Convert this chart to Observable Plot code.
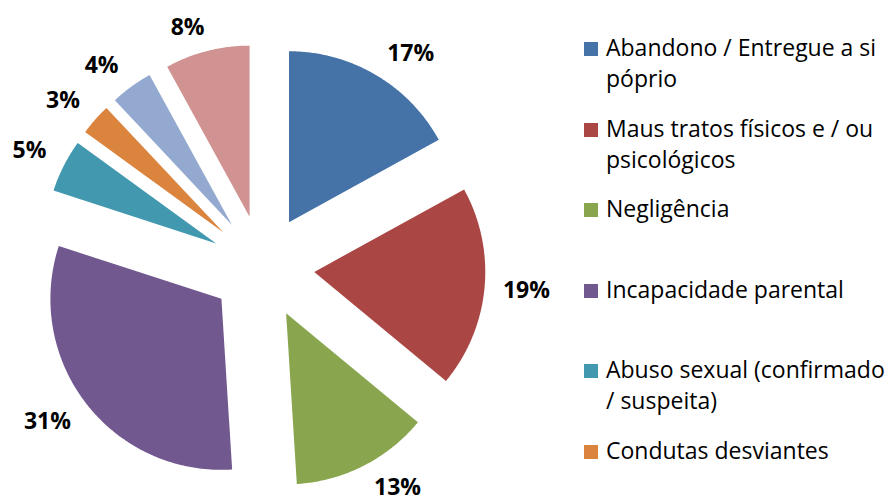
<!DOCTYPE html>
<html>
<head>
<meta charset="utf-8">
<script src="https://cdn.jsdelivr.net/npm/d3@7"></script>
<script src="https://cdn.jsdelivr.net/npm/@observablehq/plot@0.6"></script>
<style>
  html, body { margin: 0; padding: 0; background: #ffffff; }
  #wrap { position: relative; width: 889px; height: 502px; overflow: hidden; font-family: "Open Sans", sans-serif; }
  #chart { position: absolute; left: 0; top: 0; }
  .item { position: absolute; left: 584px; width: 305px; }
  .sw { position: absolute; left: 0; top: 10px; width: 14px; height: 14px; }
  .txt { margin-left: 22px; font-size: 23px; line-height: 31px; color: #000; white-space: nowrap; }
</style>
</head>
<body>
<div id="wrap"><div id="chart"></div><div id="legend"></div></div>
<script>
// ---- data ----
const categories = [
  "Abandono / Entregue a si póprio",
  "Maus tratos físicos e / ou psicológicos",
  "Negligência",
  "Incapacidade parental",
  "Abuso sexual (confirmado / suspeita)",
  "Condutas desviantes",
  "Categoria 7",
  "Categoria 8"
];
const legendLines = [
  ["Abandono / Entregue a si", "póprio"],
  ["Maus tratos físicos e / ou", "psicológicos"],
  ["Negligência"],
  ["Incapacidade parental"],
  ["Abuso sexual (confirmado", "/ suspeita)"],
  ["Condutas desviantes"],
  ["Categoria 7"],
  ["Categoria 8"]
];
const values = [17, 19, 13, 31, 5, 3, 4, 8];
const colors = ["#4572A7", "#AA4643", "#89A54E", "#71588F", "#4198AF", "#DB843D", "#93A9CF", "#D19392"];

// ---- layout ----
const W = 575, H = 502;
const cx = 262, cy = 266.5, R = 171, explode = 52;
const labelR = 186, halfH = 9;

const arcs = d3.pie().sort(null).value(d => d.value).startAngle(0)(
  categories.map((c, i) => ({cat: c, value: values[i]}))
);

const slicePts = [];
const labels = [];
arcs.forEach(a => {
  const m = (a.startAngle + a.endAngle) / 2;
  const ax = cx + explode * Math.sin(m), ay = cy - explode * Math.cos(m);
  slicePts.push({cat: a.data.cat, x: ax, y: ay});
  const n = Math.max(2, Math.ceil((a.endAngle - a.startAngle) / (Math.PI / 360)));
  for (let k = 0; k <= n; k++) {
    const t = a.startAngle + (a.endAngle - a.startAngle) * k / n;
    slicePts.push({cat: a.data.cat, x: ax + R * Math.sin(t), y: ay - R * Math.cos(t)});
  }
  const text = a.data.value + "%";
  const halfW = 9 + text.length * 6;
  const clamp = v => Math.max(-1, Math.min(1, v));
  labels.push({
    text,
    x: ax + labelR * Math.sin(m) + halfW * clamp(3 * Math.sin(m)),
    y: ay - labelR * Math.cos(m) + halfH * clamp(-2 * Math.cos(m))
  });
});

const plot = Plot.plot({
  width: W,
  height: H,
  margin: 0,
  x: {domain: [0, W], range: [0, W], axis: null},
  y: {domain: [0, H], range: [0, H], axis: null},
  color: {domain: categories, range: colors},
  style: {fontFamily: "Open Sans", background: "#ffffff"},
  marks: [
    Plot.line(slicePts, {x: "x", y: "y", z: "cat", fill: "cat", stroke: "none", curve: "linear-closed"}),
    Plot.text(labels, {x: "x", y: "y", text: "text", fontSize: 23, fontWeight: "bold", fill: "#000", textAnchor: "middle"})
  ]
});
document.getElementById("chart").appendChild(plot);

// ---- legend (only the entries that fit in the frame, as in the original) ----
const legend = document.getElementById("legend");
categories.forEach((c, i) => {
  const top = 32 + i * 80.5;
  if (top + 40 > H) return;
  const item = document.createElement("div");
  item.className = "item";
  item.style.top = top + "px";
  const sw = document.createElement("span");
  sw.className = "sw";
  sw.style.background = colors[i];
  const txt = document.createElement("div");
  txt.className = "txt";
  txt.innerHTML = legendLines[i].join("<br>");
  item.appendChild(sw);
  item.appendChild(txt);
  legend.appendChild(item);
});
</script>
</body>
</html>
